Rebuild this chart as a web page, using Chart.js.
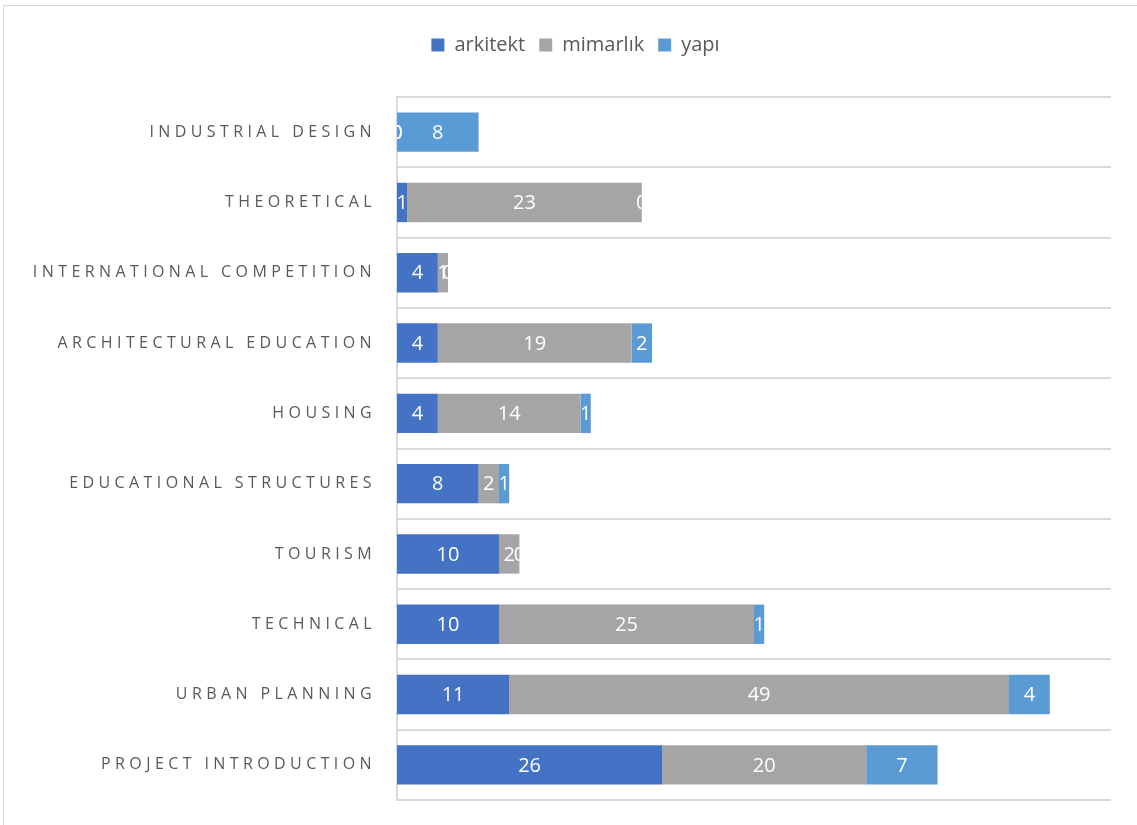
<!DOCTYPE html>
<html>
<head>
<meta charset="utf-8">
<script src="https://cdn.jsdelivr.net/npm/chart.js@4"></script>
<style>
  html, body { margin: 0; background: #ffffff; }
  #frame { position: absolute; left: 3px; top: 5px; width: 1140px; height: 830px; border: 1px solid #d9d9d9; }
  #wrap { position: absolute; left: 0; top: 0; width: 1137px; height: 825px; }
</style>
</head>
<body>
<div id="frame"></div>
<div id="wrap"><canvas id="myChart"></canvas></div>
<script>
const categories = [
  'INDUSTRIAL DESIGN',
  'THEORETICAL',
  'INTERNATIONAL COMPETITION',
  'ARCHITECTURAL EDUCATION',
  'HOUSING',
  'EDUCATIONAL STRUCTURES',
  'TOURISM',
  'TECHNICAL',
  'URBAN PLANNING',
  'PROJECT INTRODUCTION'
]
const arkitekt = [0, 1, 4, 4, 4, 8, 10, 10, 11, 26]
const mimarlik = [0, 23, 1, 19, 14, 2, 2, 25, 49, 20]
const yapi = [8, 0, 0, 2, 1, 1, 0, 1, 4, 7]

// labels centred in each piece, clipped to the whole stack like Excel does
const barLabels = {
  id: 'barLabels',
  afterDatasetsDraw(chart) {
    const ctx = chart.ctx
    const area = chart.chartArea
    const metas = chart.data.datasets.map((d, i) => chart.getDatasetMeta(i))
    categories.forEach((c, j) => {
      let end = area.left
      metas.forEach(m => { end = Math.max(end, m.data[j].x) })
      metas.forEach((m, i) => {
        const bar = m.data[j]
        const v = chart.data.datasets[i].data[j]
        ctx.save()
        ctx.beginPath()
        ctx.rect(area.left, bar.y - bar.height / 2, end - area.left, bar.height)
        ctx.clip()
        ctx.fillStyle = '#ffffff'
        ctx.font = '20px "Open Sans"'
        ctx.textAlign = 'center'
        ctx.textBaseline = 'middle'
        ctx.fillText(String(v), (bar.x + bar.base) / 2, bar.y + 1)
        ctx.restore()
      })
    })
  }
}

// spaced capitals on the category axis
const spacedTicks = {
  id: 'spacedTicks',
  beforeDraw(chart) {
    const y = chart.scales.y
    if (y._spaced) return
    const orig = y.drawLabels.bind(y)
    y.drawLabels = function (area) {
      chart.ctx.save()
      chart.ctx.letterSpacing = '4.4px'
      orig(area)
      chart.ctx.restore()
    }
    y._spaced = true
  }
}

// extra room under the legend, and nudge it right a little
const legendGap = {
  id: 'legendGap',
  beforeInit(chart) {
    const fit = chart.legend.fit
    chart.legend.fit = function () {
      fit.bind(chart.legend)()
      this.height += 32
    }
  },
  afterLayout(chart) {
    chart.legend.left += 20
    chart.legend.right += 20
  }
}

const config = {
  type: 'bar',
  data: {
    labels: categories,
    datasets: [
      { label: 'arkitekt', data: arkitekt, backgroundColor: '#4472c4' },
      { label: 'mimarlık', data: mimarlik, backgroundColor: '#a5a5a5' },
      { label: 'yapı', data: yapi, backgroundColor: '#5b9bd5' }
    ]
  },
  options: {
    indexAxis: 'y',
    responsive: true,
    maintainAspectRatio: false,
    animation: false,
    categoryPercentage: 1,
    barPercentage: 0.56,
    layout: { padding: { left: 0, right: 26, top: 21, bottom: 25 } },
    scales: {
      x: {
        stacked: true,
        min: 0,
        max: 70,
        display: false
      },
      y: {
        stacked: true,
        afterFit(scale) {
          scale.width = 397
          scale.paddingTop = 0
          scale.paddingBottom = 0
        },
        grid: { offset: true, color: '#d9d9d9', lineWidth: 2, drawTicks: false },
        border: { color: '#d9d9d9', width: 2 },
        ticks: {
          color: '#595959',
          padding: 21,
          font: { family: '"Open Sans"', size: 16 }
        }
      }
    },
    plugins: {
      tooltip: { enabled: false },
      legend: {
        position: 'top',
        labels: {
          color: '#595959',
          boxWidth: 13,
          boxHeight: 13,
          padding: 14,
          font: { family: '"Open Sans"', size: 20 }
        }
      }
    }
  },
  plugins: [barLabels, spacedTicks, legendGap]
}

Chart.defaults.font.family = '"Open Sans"'
var myChart = new Chart(document.getElementById('myChart'), config)
</script>
</body>
</html>
